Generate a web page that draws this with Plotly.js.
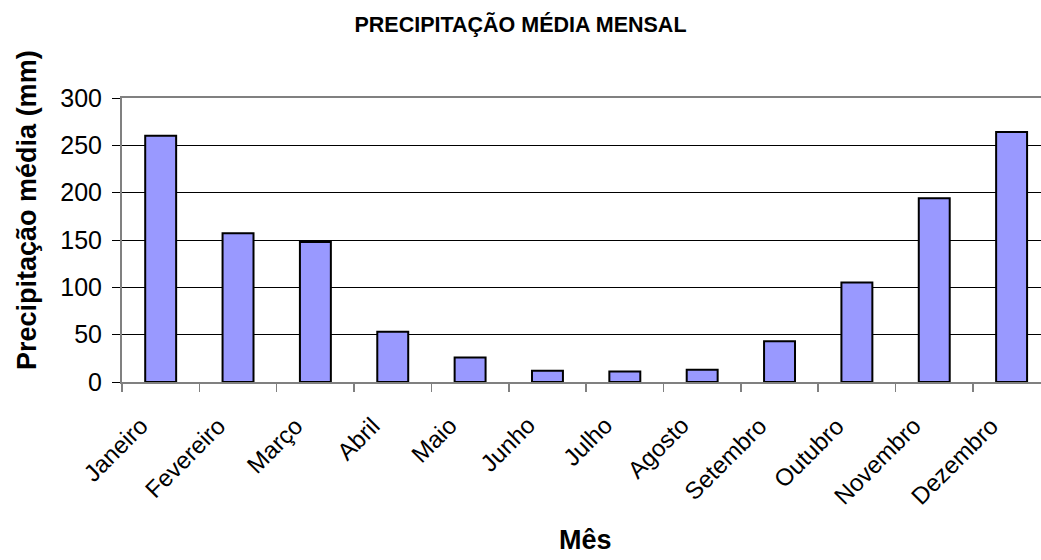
<!DOCTYPE html>
<html>
<head>
<meta charset="utf-8">
<script src="https://cdn.plot.ly/plotly-3.0.1.min.js"></script>
<style>html,body{margin:0;padding:0;background:#fff;}#chart{width:1041px;height:560px;}</style>
</head>
<body>
<div id="chart"></div>
<script>
const months = ["Janeiro","Fevereiro","Março","Abril","Maio","Junho","Julho","Agosto","Setembro","Outubro","Novembro","Dezembro"];
const precip = [260, 157, 148, 53, 26, 12, 11, 13, 43, 105, 194, 264];
const yTicks = [0, 50, 100, 150, 200, 250, 300];

const FONT = 'Liberation Sans, Arial, sans-serif';

const trace = {
  type: 'bar',
  x: months,
  y: precip,
  width: 0.4,
  marker: {color: '#9999FF', line: {color: '#000000', width: 2}},
  hoverinfo: 'x+y'
};

// month labels drawn as rotated annotations anchored on each category
const monthLabels = months.map(m => ({
  text: m,
  xref: 'x', yref: 'paper',
  x: m, y: 0,
  xanchor: 'right', yanchor: 'top',
  xshift: -5, yshift: -27,
  textangle: -45,
  showarrow: false,
  font: {family: FONT, size: 24, color: '#000'}
}));

const layout = {
  width: 1041,
  height: 560,
  margin: {l: 122, r: 0, t: 98, b: 178},
  paper_bgcolor: '#ffffff',
  plot_bgcolor: '#ffffff',
  showlegend: false,
  title: {
    text: 'PRECIPITAÇÃO MÉDIA MENSAL',
    font: {family: FONT, size: 21.5, color: '#000', weight: 'bold'},
    x: 0.5, xanchor: 'center', y: 0.957, yanchor: 'middle'
  },
  xaxis: {
    type: 'category',
    range: [-0.5, 11.38],
    showticklabels: false,
    ticks: 'outside',
    tickson: 'boundaries',
    ticklen: 8,
    tickcolor: '#808080',
    tickwidth: 1.5,
    showline: true,
    linecolor: '#808080',
    linewidth: 2,
    mirror: true,
    showgrid: false,
    zeroline: false
  },
  yaxis: {
    range: [0, 300],
    tickvals: yTicks,
    ticktext: yTicks.map(String),
    tickfont: {family: FONT, size: 25, color: '#000'},
    ticklabelstandoff: 5,
    ticks: 'outside',
    ticklen: 8,
    tickcolor: '#000',
    tickwidth: 1,
    showline: true,
    linecolor: '#808080',
    linewidth: 2,
    showgrid: true,
    gridcolor: '#000000',
    gridwidth: 1,
    zeroline: false
  },
  annotations: monthLabels.concat([
    {
      text: 'Precipitação média (mm)',
      xref: 'paper', yref: 'paper',
      x: -0.1034, y: 0.6056,
      xanchor: 'center', yanchor: 'middle',
      textangle: -90,
      showarrow: false,
      font: {family: FONT, size: 27, color: '#000', weight: 'bold'}
    },
    {
      text: 'Mês',
      xref: 'paper', yref: 'paper',
      x: 0.504, y: -0.555,
      xanchor: 'center', yanchor: 'middle',
      showarrow: false,
      font: {family: FONT, size: 27, color: '#000', weight: 'bold'}
    }
  ])
};

Plotly.newPlot('chart', [trace], layout, {displayModeBar: false, staticPlot: true});
</script>
</body>
</html>
